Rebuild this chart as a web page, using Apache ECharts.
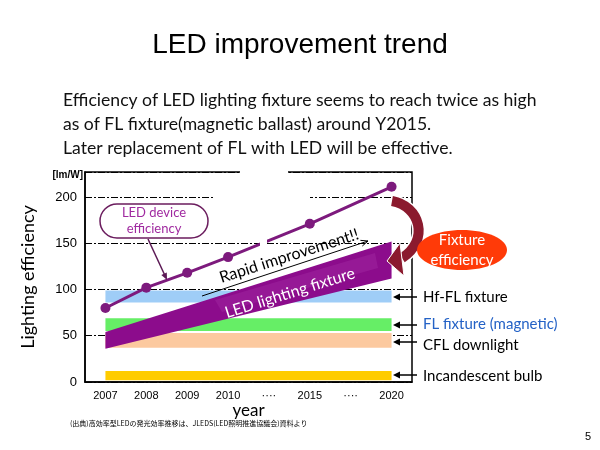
<!DOCTYPE html>
<html><head><meta charset="utf-8">
<script src="https://cdn.jsdelivr.net/npm/echarts@6/dist/echarts.min.js"></script>
<style>html,body{margin:0;padding:0;background:#fff}#c{width:600px;height:450px}</style>
</head><body><div id="c"></div>
<script>
// ---- data ----
const categories = ['2007', '2008', '2009', '2010', '····', '2015', '····', '2020'];
const yTicks = [0, 50, 100, 150, 200];
const ledDevice = [80, 102, 118, 135, null, 171, null, 211];
const ledFixtureYears = ['2007', '2020'];
const ledFixtureLow = [36, 112];
const ledFixtureHigh = [54, 152];
const bandNames = ['Hf-FL fixture', 'FL fixture (magnetic)', 'CFL downlight', 'Incandescent bulb'];
const bandLow = [86, 55, 37, 2];
const bandHigh = [99, 69, 53, 12];
const bandFrom = '2007', bandTo = '2020';

// ---- styles ----
const bandColors = ['#9fcdf7', '#66ee66', '#fcc99f', '#ffcc00'];
const bandLabelColors = ['#000', '#2462c6', '#000', '#000'];
const bandLabelY = [297, 324, 345, 376];
const bandArrowY = [297, 325, 342, 375];
const BODY = 'Lato, "Open Sans", sans-serif';

function arrow(x1, y1, x2, y2, color, w, hl, hw, z) {
  const dx = x2 - x1, dy = y2 - y1, L = Math.hypot(dx, dy);
  const ux = dx / L, uy = dy / L, px = -uy, py = ux;
  const bx = x2 - ux * hl, by = y2 - uy * hl;
  return [
    { type: 'line', z: z, shape: { x1: x1, y1: y1, x2: bx + ux, y2: by + uy }, style: { stroke: color, lineWidth: w } },
    { type: 'polygon', z: z, shape: { points: [[x2, y2], [bx + px * hw, by + py * hw], [bx - px * hw, by - py * hw]] }, style: { fill: color } }
  ];
}
function openArrow(x1, y1, x2, y2, color, w, hl, hw, z) {
  const dx = x2 - x1, dy = y2 - y1, L = Math.hypot(dx, dy);
  const ux = dx / L, uy = dy / L, px = -uy, py = ux;
  const bx = x2 - ux * hl, by = y2 - uy * hl;
  return [
    { type: 'line', z: z, shape: { x1: x1, y1: y1, x2: x2, y2: y2 }, style: { stroke: color, lineWidth: w } },
    { type: 'polyline', z: z, shape: { points: [[bx + px * hw, by + py * hw], [x2, y2], [bx - px * hw, by - py * hw]] }, style: { stroke: color, lineWidth: w, fill: null } }
  ];
}
function txt(x, y, text, size, color, align, rotation) {
  return { type: 'text', x: x, y: y, z: 100, rotation: rotation || 0,
    style: { text: text, fontSize: size, fill: color, fontFamily: BODY, align: align || 'left', verticalAlign: 'middle' } };
}

const graphics = [
  { type: 'text', x: 300, y: 45, z: 100, style: { text: 'LED improvement trend', fontSize: 28, fill: '#000', fontFamily: '"Liberation Sans", Arial, sans-serif', align: 'center', verticalAlign: 'middle' } },
  txt(63, 100, 'Efficiency of LED lighting fixture seems to reach twice as high', 17.6, '#111'),
  txt(63, 124, 'as of FL fixture(magnetic ballast) around Y2015.', 17.6, '#111'),
  txt(63, 148, 'Later replacement of FL with LED will be effective.', 17.6, '#111'),
  { type: 'text', x: 83, y: 175, z: 100, style: { text: '[lm/W]', fontSize: 10, fontWeight: 'bold', fill: '#000', fontFamily: '"Liberation Sans", sans-serif', align: 'right', verticalAlign: 'middle' } },
  // gaps in the frame / grid / line
  { type: 'rect', z: 1, shape: { x: 240, y: 169, width: 48, height: 6 }, style: { fill: '#fff' } },
  { type: 'rect', z: 1, shape: { x: 215, y: 194, width: 95, height: 6 }, style: { fill: '#fff' } },
  { type: 'rect', z: 5, shape: { x: 260, y: 236, width: 7, height: 15 }, style: { fill: '#fff' } },
  // lighter face on the LED fixture ribbon
  { type: 'polygon', z: 6, shape: { points: [[215, 300], [375, 253], [378, 268], [222, 312]] }, style: { fill: '#9a1f9a', opacity: 0.7 } },
  // callout
  { type: 'rect', z: 100, shape: { x: 100, y: 204, width: 108, height: 34, r: 17 }, style: { fill: '#fff', stroke: '#6b1d5e', lineWidth: 1.5 } },
  txt(154, 213, 'LED device', 13, '#a02aa0', 'center'),
  txt(154, 229, 'efficiency', 13, '#a02aa0', 'center'),
  ...arrow(148, 239, 167, 280, '#5c1a55', 1.5, 7, 3, 100),
  // rapid improvement
  txt(289, 256, 'Rapid improvement!!', 16, '#000', 'center', 0.31),
  ...openArrow(202, 296, 368, 241, '#000', 1, 7, 3, 100),
  // LED lighting fixture label
  txt(290, 293, 'LED lighting fixture', 16, '#fff', 'center', 0.305),
  // curved arrow
  { type: 'bezierCurve', z: 99, shape: { x1: 392, y1: 201, cpx1: 420, cpy1: 206, cpx2: 430, cpy2: 240, x2: 402, y2: 258 }, style: { stroke: '#fff', lineWidth: 13, fill: null } },
  { type: 'bezierCurve', z: 100, shape: { x1: 392, y1: 201, cpx1: 420, cpy1: 206, cpx2: 430, cpy2: 240, x2: 402, y2: 258 }, style: { stroke: '#8b1a2e', lineWidth: 10, fill: null } },
  { type: 'polygon', z: 100, shape: { points: [[387, 261], [400, 243], [404, 276]] }, style: { fill: '#8b1a2e', stroke: '#fff', lineWidth: 1 } },
  // fixture efficiency ellipse
  { type: 'ellipse', z: 100, shape: { cx: 462, cy: 250, rx: 45, ry: 20 }, style: { fill: '#ff3a08' } },
  txt(462, 240, 'Fixture', 15, '#fff', 'center'),
  txt(462, 260, 'efficiency', 15, '#fff', 'center'),
  // footnote and page number
  { type: 'text', x: 70, y: 423, z: 100, style: { text: '(出典)高効率型LEDの発光効率推移は、JLEDS(LED照明推進協議会)資料より', fontSize: 7, fill: '#000', fontFamily: '"Noto Sans CJK JP", sans-serif', verticalAlign: 'middle' } },
  { type: 'text', x: 588, y: 437, z: 100, style: { text: '5', fontSize: 11, fill: '#000', fontFamily: '"Liberation Sans", sans-serif', align: 'center', verticalAlign: 'middle' } }
];
bandNames.forEach(function (n, i) {
  graphics.push(txt(423, bandLabelY[i], n, 15, bandLabelColors[i]));
  graphics.push(...arrow(417, bandArrowY[i], 393, bandArrowY[i], '#000', 1.5, 7, 3.5, 100));
});

const chart = echarts.init(document.getElementById('c'));
chart.setOption({
  animation: false,
  grid: { left: 85, right: 188, top: 172, bottom: 68, show: true, borderColor: '#000', borderWidth: 1.5, backgroundColor: 'transparent' },
  xAxis: {
    type: 'category', data: categories, boundaryGap: true,
    name: 'year', nameLocation: 'middle', nameGap: 19,
    nameTextStyle: { fontFamily: BODY, fontSize: 17, color: '#000' },
    axisLine: { lineStyle: { color: '#000', width: 1.5 } },
    axisTick: { inside: true, length: 4, lineStyle: { color: '#000' } },
    axisLabel: { color: '#000', fontSize: 11, margin: 8, fontFamily: '"Liberation Sans", sans-serif' },
    splitLine: { show: false }
  },
  yAxis: {
    type: 'value', min: 0, max: 227, interval: 50,
    name: 'Lighting efficiency', nameLocation: 'middle', nameGap: 48, nameRotate: 90,
    nameTextStyle: { fontFamily: BODY, fontSize: 18, color: '#000' },
    axisLine: { show: true, lineStyle: { color: '#000', width: 1.5 } },
    axisTick: { show: false },
    axisLabel: { color: '#000', fontSize: 13, margin: 8, showMaxLabel: false, fontFamily: '"Liberation Sans", sans-serif',
      formatter: function (v) { return yTicks.indexOf(v) >= 0 ? String(v) : ''; } },
    splitLine: { show: true, lineStyle: { color: '#000', width: 1, type: [7, 2, 2, 2] } }
  },
  series: [
    {
      type: 'custom', z: 2,
      data: bandNames.map(function (n, i) { return [categories.indexOf(bandFrom), categories.indexOf(bandTo), bandLow[i], bandHigh[i]]; }),
      encode: { x: [0, 1], y: [2, 3] },
      renderItem: function (params, api) {
        const p1 = api.coord([api.value(0), api.value(3)]);
        const p2 = api.coord([api.value(1), api.value(2)]);
        return { type: 'rect', shape: { x: p1[0], y: p1[1], width: p2[0] - p1[0], height: p2[1] - p1[1] }, style: { fill: bandColors[params.dataIndex] } };
      }
    },
    {
      type: 'custom', z: 3,
      data: [[categories.indexOf(ledFixtureYears[0]), ledFixtureLow[0], ledFixtureHigh[0], categories.indexOf(ledFixtureYears[1]), ledFixtureLow[1], ledFixtureHigh[1]]],
      encode: { x: [0, 3], y: [1, 2, 4, 5] },
      renderItem: function (params, api) {
        const a = api.coord([api.value(0), api.value(1)]);
        const b = api.coord([api.value(0), api.value(2)]);
        const c = api.coord([api.value(3), api.value(5)]);
        const d = api.coord([api.value(3), api.value(4)]);
        return { type: 'polygon', shape: { points: [a, b, c, d] }, style: { fill: '#8c0c8c' } };
      }
    },
    {
      type: 'line', z: 4, data: ledDevice, connectNulls: true,
      symbol: 'circle', symbolSize: 10,
      itemStyle: { color: '#7d1a7d' },
      lineStyle: { color: '#7d1a7d', width: 3 }
    }
  ],
  graphic: { elements: graphics }
});
</script></body></html>
